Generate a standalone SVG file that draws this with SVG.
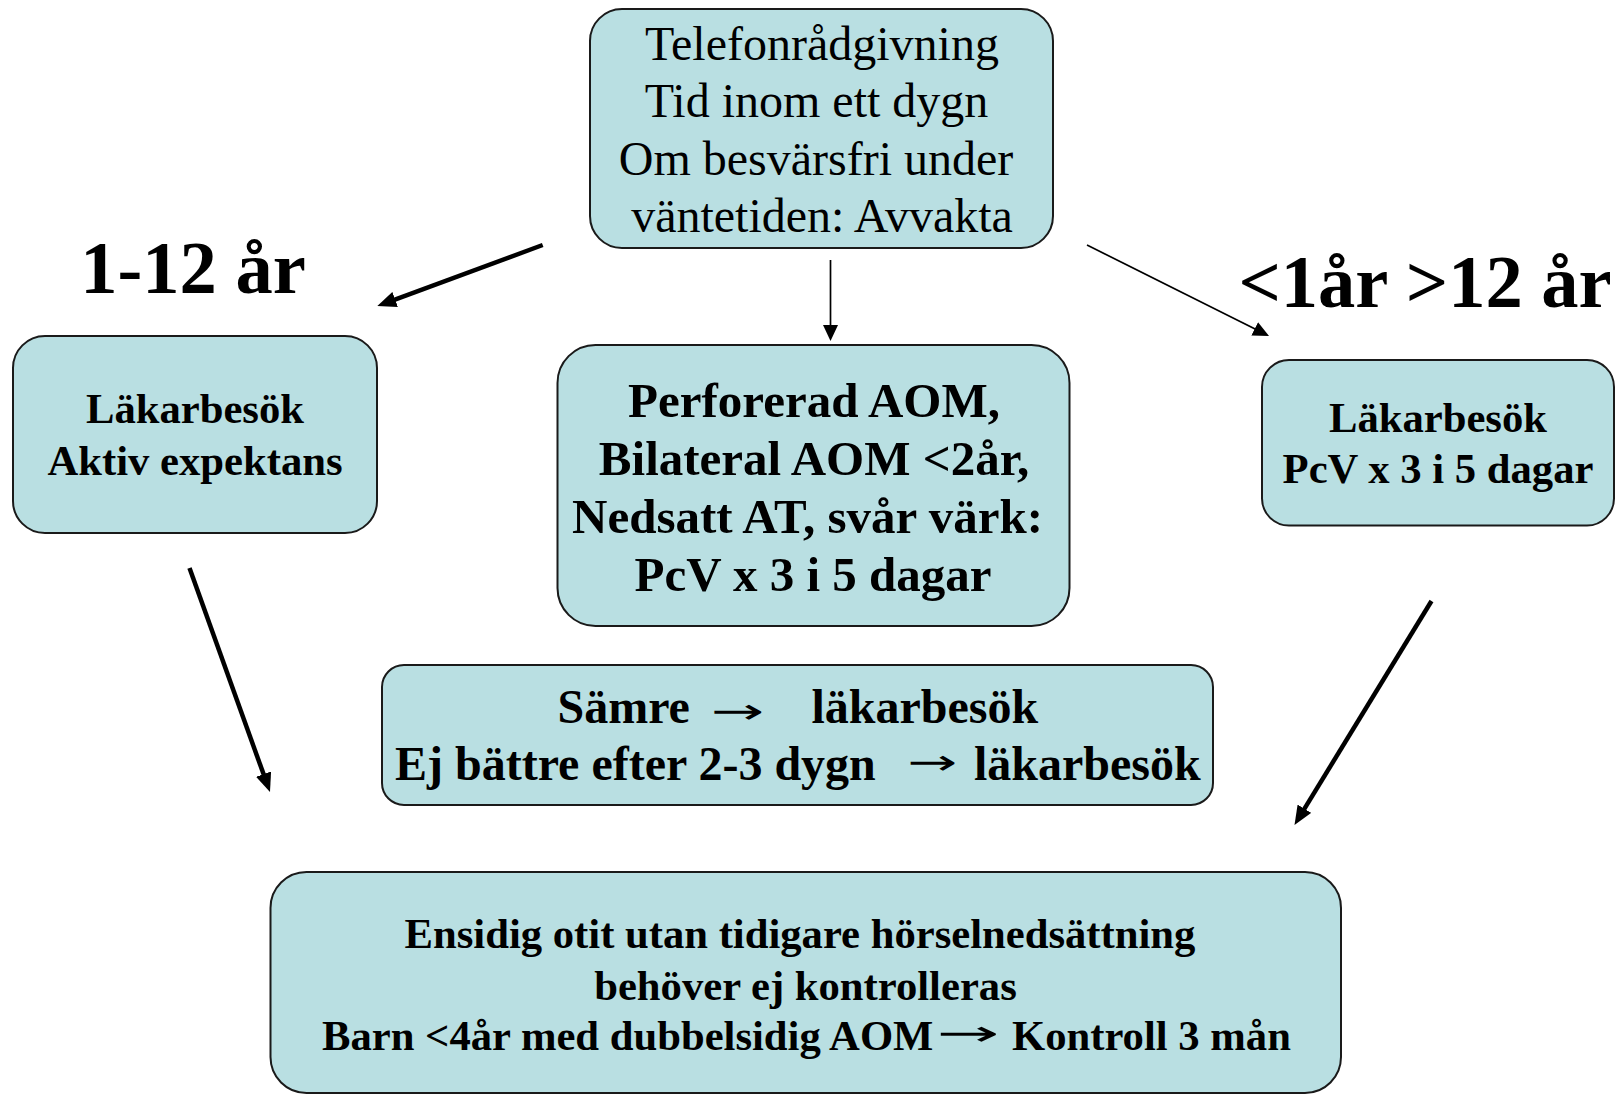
<svg xmlns="http://www.w3.org/2000/svg" width="1619" height="1094" viewBox="0 0 1619 1094">
<style>
.box{fill:#B9DFE2;stroke:#1a1a1a;stroke-width:2}
.t{font-family:"Liberation Serif","Times New Roman",serif;fill:#000}
.r48{font-size:48px;font-weight:normal;text-anchor:middle}
.b48{font-size:48px;font-weight:bold}
.b49{font-size:49px;font-weight:bold}
.b43{font-size:42.67px;font-weight:bold}
.b72{font-size:74.5px;font-weight:bold;text-anchor:middle}
.m{text-anchor:middle}
.thick{stroke:#000;stroke-width:4.5;fill:none}
.thin{stroke:#000;stroke-width:1.7;fill:none}
.arr{font-family:"DejaVu Sans",sans-serif;font-weight:normal;font-size:35px;fill:#000}
</style>
<defs>
<marker id="hThick" markerUnits="userSpaceOnUse" markerWidth="19" markerHeight="16" refX="1" refY="8" orient="auto">
<path d="M0,0 L19,8 L0,16 Z" fill="#000"/>
</marker>
<marker id="hThin" markerUnits="userSpaceOnUse" markerWidth="16" markerHeight="15" refX="1" refY="7.5" orient="auto">
<path d="M0,0 L16,7.5 L0,15 Z" fill="#000"/>
</marker>
</defs>
<rect width="1619" height="1094" fill="#fff"/>

<g id="top">
<rect class="box" x="590" y="9" width="463" height="239" rx="32"/>
<text class="t r48"><tspan x="822" y="60">Telefonrådgivning</tspan><tspan x="816.5" y="117">Tid inom ett dygn</tspan><tspan x="816" y="175">Om besvärsfri under</tspan><tspan x="822" y="232">väntetiden: Avvakta</tspan></text>
</g>

<g id="label-left">
<text class="t b72" x="193" y="293">1-12 år</text>
</g>

<g id="label-right">
<text class="t b72" x="1425" y="307">&lt;1år &gt;12 år</text>
</g>

<g id="left">
<rect class="box" x="13" y="336" width="364" height="197" rx="32"/>
<text class="t b43 m"><tspan x="195" y="423">Läkarbesök</tspan><tspan x="195" y="474.5">Aktiv expektans</tspan></text>
</g>

<g id="middle">
<rect class="box" x="557.5" y="345" width="512" height="281" rx="38"/>
<text class="t b49 m"><tspan x="814" y="417">Perforerad AOM,</tspan><tspan x="814" y="475">Bilateral AOM &lt;2år,</tspan><tspan x="807.5" y="533">Nedsatt AT, svår värk:</tspan><tspan x="813" y="591">PcV x 3 i 5 dagar</tspan></text>
</g>

<g id="right">
<rect class="box" x="1262" y="360" width="352" height="165.5" rx="27"/>
<text class="t b43 m"><tspan x="1438" y="431.5">Läkarbesök</tspan><tspan x="1438" y="483">PcV x 3 i 5 dagar</tspan></text>
</g>

<g id="worse">
<rect class="box" x="382" y="665" width="831" height="140" rx="22"/>
<text class="t b48" x="557.5" y="723">Sämre</text>
<text class="arr" x="710.8" y="723.2" textLength="53.5" lengthAdjust="spacingAndGlyphs">→</text>
<text class="t b48" x="811.5" y="723">läkarbesök</text>
<text class="t b48" x="395" y="780">Ej bättre efter 2-3 dygn</text>
<text class="arr" x="907.3" y="773.5" textLength="50" lengthAdjust="spacingAndGlyphs">→</text>
<text class="t b48" x="974" y="780">läkarbesök</text>
</g>

<g id="bottom">
<rect class="box" x="270.5" y="872" width="1070.5" height="221" rx="36"/>
<text class="t b43 m" x="800" y="948">Ensidig otit utan tidigare hörselnedsättning</text>
<text class="t b43 m" x="805.5" y="1000">behöver ej kontrolleras</text>
<text class="t b43" x="322" y="1050">Barn &lt;4år med dubbelsidig AOM</text>
<text class="arr" x="936.5" y="1045.2" textLength="63" lengthAdjust="spacingAndGlyphs">→</text>
<text class="t b43" x="1012" y="1050">Kontroll 3 mån</text>
</g>

<g id="connectors">
<line class="thick" x1="542.7" y1="245" x2="394.2" y2="299.8" marker-end="url(#hThick)"/>
<line class="thin" x1="830.5" y1="260" x2="830.5" y2="326" marker-end="url(#hThin)"/>
<line class="thin" x1="1087" y1="245" x2="1255.6" y2="329.3" marker-end="url(#hThin)"/>
<line class="thick" x1="189.5" y1="568" x2="263.9" y2="775.1" marker-end="url(#hThick)"/>
<line class="thick" x1="1431.5" y1="601" x2="1303.9" y2="809.6" marker-end="url(#hThick)"/>
</g>
</svg>
